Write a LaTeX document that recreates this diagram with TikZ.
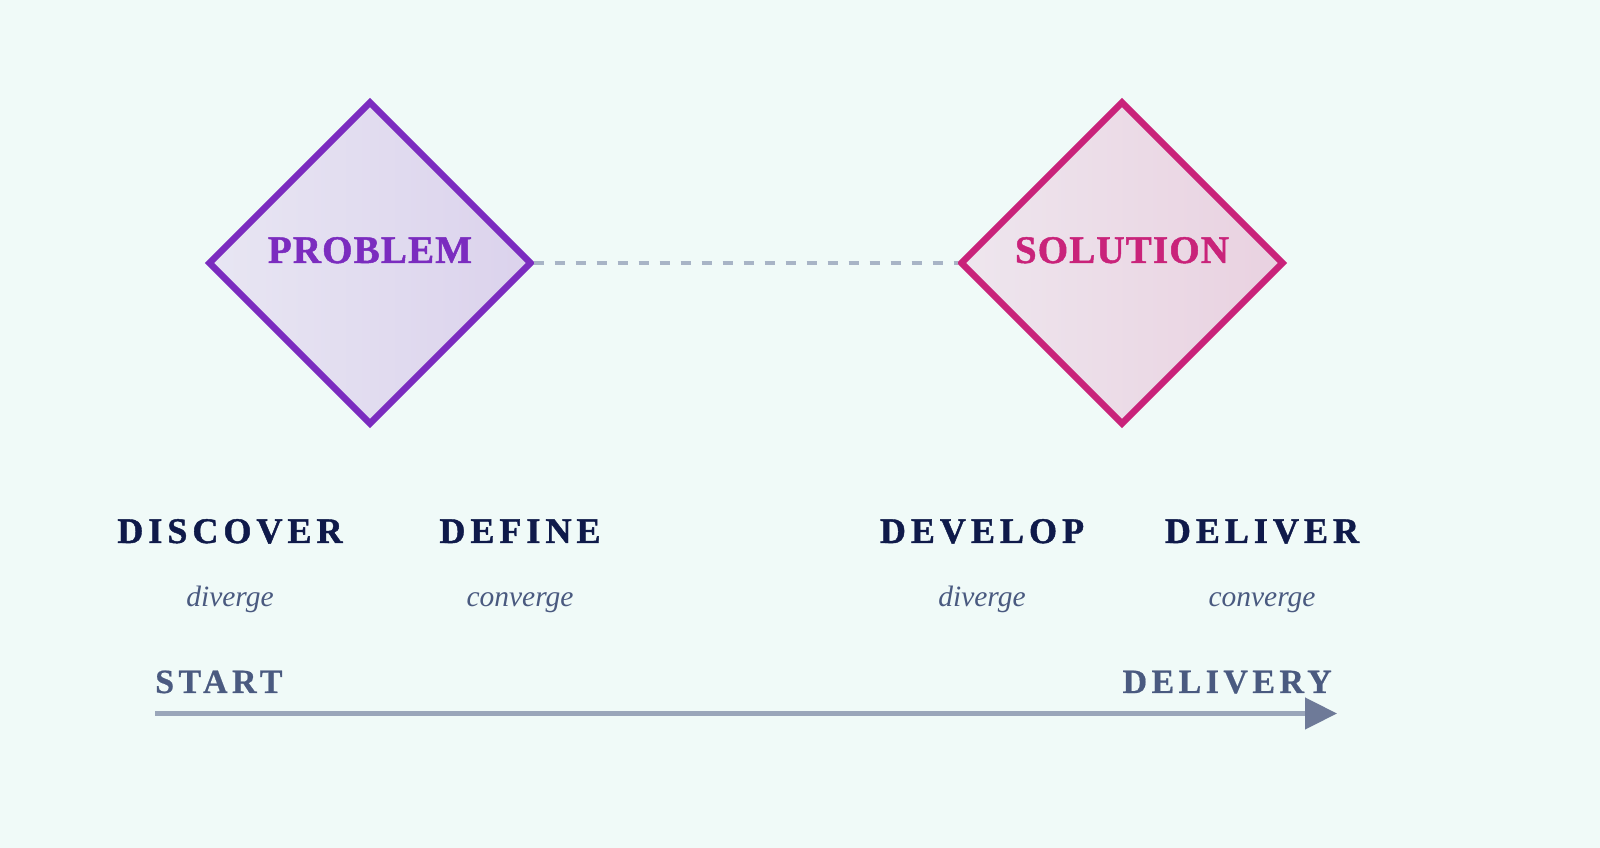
\documentclass[tikz,border=0pt]{standalone}
\usepackage{fontspec}
\setmainfont{Liberation Serif}
\usetikzlibrary{shapes.geometric,arrows.meta}
\newfontfamily\titlefont[LetterSpace=3,FakeBold=1.2]{Liberation Serif Bold}
\newfontfamily\phasefont[LetterSpace=14,FakeBold=1.2]{Liberation Serif Bold}
\newfontfamily\endfont[LetterSpace=13,FakeBold=0.6]{Liberation Serif Bold}
\newfontfamily\subfont{Liberation Serif Italic}
\definecolor{bg}{HTML}{F0FAF8}
\definecolor{probcol}{HTML}{7B2CBF}
\definecolor{solcol}{HTML}{C9237A}
\definecolor{probL}{HTML}{E8E6F3}
\definecolor{probR}{HTML}{DBD2EC}
\definecolor{solL}{HTML}{EEE6EE}
\definecolor{solR}{HTML}{E9D1E0}
\definecolor{navy}{HTML}{0F1A4A}
\definecolor{slate}{HTML}{4A5A80}
\definecolor{dashcol}{HTML}{A8B4C6}
\definecolor{linecol}{HTML}{9AA6BA}
\definecolor{headcol}{HTML}{6E7A98}
\tikzset{
  x=1pt,y=1pt,
  bigdiamond/.style={diamond,aspect=1,minimum width=321pt,minimum height=321pt,inner sep=0pt,outer sep=0pt,line width=6.5pt},
  titletext/.style={anchor=base,inner sep=0pt,font=\titlefont\fontsize{39}{39}\selectfont},
  phasetext/.style={anchor=base,inner sep=0pt,text=navy,font=\phasefont\fontsize{36}{36}\selectfont},
  subtext/.style={anchor=base,inner sep=0pt,text=slate,font=\subfont\fontsize{29.5}{29.5}\selectfont},
  endtext/.style={inner sep=0pt,text=slate,font=\endfont\fontsize{34}{34}\selectfont},
}
\begin{document}
\begin{tikzpicture}
\fill[bg] (0,0) rectangle (1600,848);
\useasboundingbox (0,0) rectangle (1600,848);
% diamonds
\node[bigdiamond,draw=probcol,left color=probL,right color=probR] (prob) at (370,585) {};
\node[bigdiamond,draw=solcol,left color=solL,right color=solR] (sol) at (1122,585) {};
\node[titletext,text=probcol] (probt) at (370,585) {PROBLEM};
\node[titletext,text=solcol] (solt) at (1122,585) {SOLUTION};
\draw[dashcol,line width=4.5pt,dash pattern=on 10pt off 11pt] ([xshift=3pt]prob.east) -- ([xshift=-4pt]sol.west);
% phases
\node[phasetext] (disc) at (230,305) {DISCOVER};
\node[phasetext] (defi) at (520,305) {DEFINE};
\node[phasetext] (deve) at (982,305) {DEVELOP};
\node[phasetext] (deli) at (1262,305) {DELIVER};
\node[subtext] (s1) at (230,241) {diverge};
\node[subtext] (s2) at (520,241) {converge};
\node[subtext] (s3) at (982,241) {diverge};
\node[subtext] (s4) at (1262,241) {converge};
% timeline
\node[endtext,anchor=base west] (start) at (155,155) {START};
\node[endtext,anchor=base east] (deliv) at (1332,155) {DELIVERY};
\coordinate (a0) at (155,134.5);
\coordinate (a1) at (1337,134.5);
\draw[linecol,line width=4.5pt,-{Triangle[length=32pt,width=31pt,color=headcol]}] (a0) -- (a1);
\end{tikzpicture}
\end{document}
